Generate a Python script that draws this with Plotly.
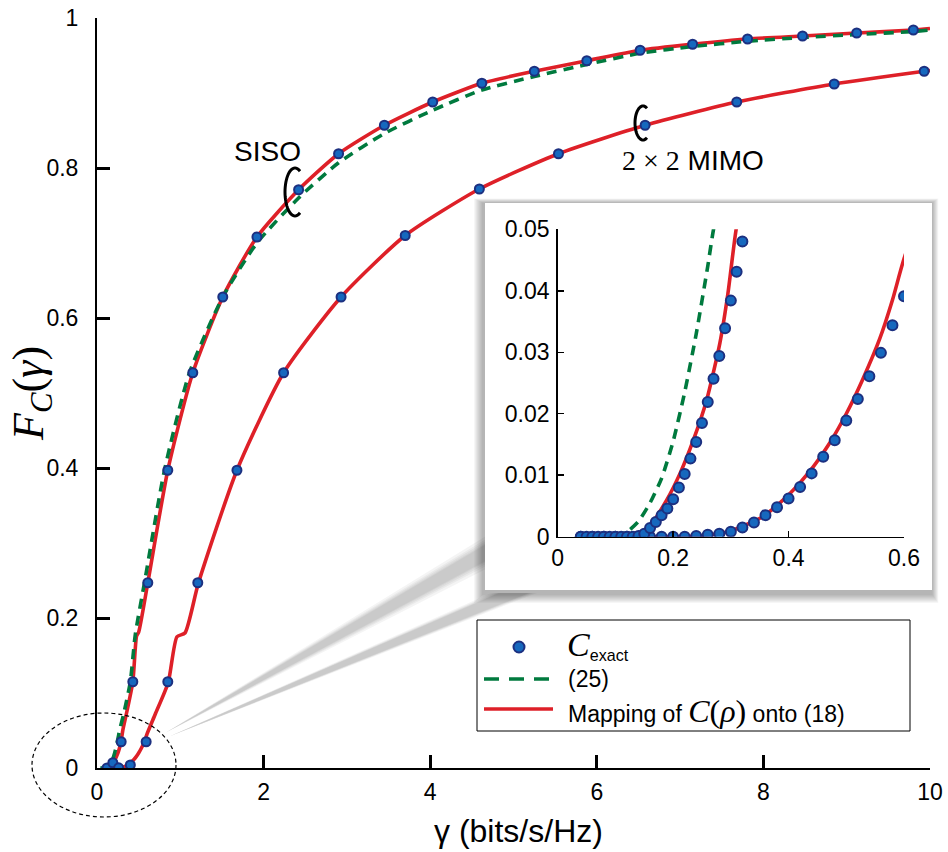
import math
import plotly.graph_objects as go

# ---------------- data ----------------
# C_exact sample points, main plot
siso_x = [0.12, 0.19, 0.29, 0.43, 0.61, 0.85, 1.15, 1.51, 1.92, 2.42, 2.90, 3.45, 4.03,
          4.62, 5.25, 5.88, 6.52, 7.15, 7.81, 8.47, 9.12, 9.80]
siso_y = [0.0, 0.007, 0.035, 0.115, 0.247, 0.397, 0.527, 0.628, 0.708, 0.771, 0.819, 0.857,
          0.888, 0.913, 0.929, 0.943, 0.957, 0.965, 0.972, 0.976, 0.980, 0.984]
mimo_x = [0.26, 0.40, 0.59, 0.85, 1.21, 1.68, 2.24, 2.93, 3.70, 4.59, 5.54, 6.58, 7.68, 8.85, 9.93]
mimo_y = [0.0003, 0.004, 0.035, 0.115, 0.247, 0.397, 0.527, 0.628, 0.710, 0.772, 0.819, 0.857,
          0.888, 0.912, 0.929]

# C_exact sample points, inset (zoom of the origin)
siso_in_x = [0.04, 0.05, 0.06, 0.07, 0.08, 0.09, 0.10, 0.11, 0.12, 0.13, 0.14, 0.15, 0.16, 0.17,
             0.18, 0.19, 0.20, 0.21, 0.22, 0.23, 0.24, 0.25, 0.26, 0.27, 0.28, 0.29, 0.30, 0.31, 0.32]
siso_in_y = [0.0, 0.0, 0.0, 0.0, 0.0, 0.0, 0.0, 0.0, 0.0, 0.0, 0.0001, 0.0005, 0.0014, 0.0024,
             0.0035, 0.0046, 0.0061, 0.0080, 0.0102, 0.0127, 0.0154, 0.0185, 0.0219, 0.0257,
             0.0294, 0.0339, 0.0384, 0.0431, 0.0480]
mimo_in_x = [0.04, 0.06, 0.08, 0.10, 0.12, 0.14, 0.16, 0.18, 0.20, 0.22, 0.24, 0.26, 0.28, 0.30,
             0.32, 0.34, 0.36, 0.38, 0.40, 0.42, 0.44, 0.46, 0.48, 0.50, 0.52, 0.54, 0.56, 0.58, 0.60]
mimo_in_y = [0.0, 0.0, 0.0, 0.0, 0.0, 0.0, 0.0, 0.0, 0.0, 0.0, 0.0001, 0.0003, 0.0005, 0.0008,
             0.0015, 0.0023, 0.0035, 0.0048, 0.0062, 0.0081, 0.0103, 0.0130, 0.0157, 0.0189,
             0.0224, 0.0261, 0.0299, 0.0344, 0.0391]

# "Mapping of C(rho) onto (18)" curves
map_siso_x = [0.056, 0.114, 0.154, 0.189, 0.212, 0.235, 0.258, 0.281, 0.295, 0.309, 0.36, 0.43,
              0.475, 0.50, 0.61, 0.85, 1.15, 1.51, 1.92, 2.42, 2.90, 3.45, 4.03, 4.62, 5.25,
              5.88, 6.52, 7.15, 7.81, 8.47, 9.12, 9.80, 10.0]
map_siso_y = [0.0, 0.0003, 0.0011, 0.006, 0.0103, 0.0157, 0.0222, 0.0315, 0.0396, 0.0499, 0.076,
              0.115, 0.176, 0.181, 0.247, 0.397, 0.527, 0.628, 0.708, 0.771, 0.819, 0.857,
              0.888, 0.913, 0.929, 0.943, 0.957, 0.965, 0.972, 0.976, 0.980, 0.984, 0.986]
map_mimo_x = [0.06, 0.241, 0.298, 0.356, 0.402, 0.443, 0.471, 0.500, 0.529, 0.558, 0.58, 0.60,
              0.70, 0.855, 0.96, 1.056, 1.216, 1.68, 2.24, 2.93, 3.70, 4.59, 5.54, 6.58, 7.68,
              8.85, 9.93, 10.0]
map_mimo_y = [0.0, 0.0001, 0.0009, 0.0033, 0.0070, 0.0114, 0.0152, 0.0200, 0.0257, 0.0322,
              0.0385, 0.0452, 0.072, 0.114, 0.175, 0.180, 0.246, 0.397, 0.527, 0.628, 0.710,
              0.772, 0.819, 0.857, 0.888, 0.912, 0.929, 0.930]

# approximation (25), SISO
approx_x = [0.04, 0.10, 0.12, 0.14, 0.16, 0.18, 0.20, 0.22, 0.24, 0.26, 0.27, 0.32, 0.40, 0.46,
            0.57, 0.81, 1.11, 1.51, 1.92, 2.42, 2.90, 3.45, 4.03, 4.62, 5.25, 5.88, 6.52, 7.15,
            7.81, 8.47, 9.12, 9.80, 10.0]
approx_y = [0.0, 0.0002, 0.0008, 0.0025, 0.0055, 0.0095, 0.0155, 0.0235, 0.033, 0.044, 0.050,
            0.072, 0.115, 0.178, 0.247, 0.397, 0.527, 0.628, 0.700, 0.760, 0.807, 0.846, 0.877,
            0.904, 0.922, 0.938, 0.953, 0.962, 0.969, 0.974, 0.978, 0.982, 0.984]

main_xticks = [0, 2, 4, 6, 8, 10]
main_yticks = [0, 0.2, 0.4, 0.6, 0.8, 1]
inset_xticks = [0, 0.2, 0.4, 0.6]
inset_yticks = [0, 0.01, 0.02, 0.03, 0.04, 0.05]

# ---------------- styles / geometry ----------------
OFF = 0                      # body margin is removed by the post script below
W, H = 948, 852
L, R, T, B = 97, 18, 18, 84
PW, PH = W - L - R, H - T - B
RED = "rgb(222,32,40)"
GREEN = "rgb(0,122,62)"
DOT_FILL = "rgb(22,104,190)"
DOT_EDGE = "rgb(28,48,128)"
SANS = "Liberation Sans, Arial, sans-serif"
SERIF = "Liberation Serif, Times New Roman, serif"


def px(xp):
    """screen x pixel -> paper x"""
    return (xp - OFF - L) / PW


def py(yp):
    """screen y pixel -> paper y"""
    return (OFF + T + PH - yp) / PH


fig = go.Figure()

for xa, ya in (("x", "y"), ("x2", "y2")):
    fig.add_trace(go.Scatter(x=map_siso_x, y=map_siso_y, mode="lines", xaxis=xa, yaxis=ya,
                             line=dict(color=RED, width=3.6, shape="spline", smoothing=0.6),
                             showlegend=False, hoverinfo="skip"))
    fig.add_trace(go.Scatter(x=map_mimo_x, y=map_mimo_y, mode="lines", xaxis=xa, yaxis=ya,
                             line=dict(color=RED, width=3.6, shape="spline", smoothing=0.6),
                             showlegend=False, hoverinfo="skip"))
    fig.add_trace(go.Scatter(x=approx_x, y=approx_y, mode="lines", xaxis=xa, yaxis=ya,
                             line=dict(color=GREEN, width=3.6, dash="10px,7px", shape="spline",
                                       smoothing=0.6),
                             showlegend=False, hoverinfo="skip"))

marker = dict(size=9, color=DOT_FILL, line=dict(color=DOT_EDGE, width=2))
fig.add_trace(go.Scatter(x=siso_x, y=siso_y, mode="markers", marker=marker, showlegend=False))
fig.add_trace(go.Scatter(x=mimo_x, y=mimo_y, mode="markers", marker=marker, showlegend=False))
marker_in = dict(size=10, color=DOT_FILL, line=dict(color=DOT_EDGE, width=2))
fig.add_trace(go.Scatter(x=mimo_in_x, y=mimo_in_y, mode="markers", marker=marker_in,
                         xaxis="x2", yaxis="y2", showlegend=False, cliponaxis=True))
fig.add_trace(go.Scatter(x=siso_in_x, y=siso_in_y, mode="markers", marker=marker_in,
                         xaxis="x2", yaxis="y2", showlegend=False, cliponaxis=True))

shapes = []


def poly(points, color):
    path = "M " + " L ".join(f"{px(a):.5f},{py(b):.5f}" for a, b in points) + " Z"
    return dict(type="path", xref="paper", yref="paper", layer="below", path=path,
                line=dict(width=0), fillcolor=color)


# ---- inset frame: soft shadow + white card ----
bx0, by0, bx1, by1 = 485, 203, 932, 590
for d in range(1, 10):
    shapes.append(dict(type="rect", xref="paper", yref="paper", layer="below",
                       x0=px(bx0 - 2 - d), x1=px(bx1 + d * 0.7), y0=py(by1 + 4 + d),
                       y1=py(by0 - d * 0.5), line=dict(width=0),
                       fillcolor="rgba(0,0,0,0.035)"))
# magnifier beam (two soft grey bands)
for d in (9, 6, 4, 2, 0.8):
    shapes.append(poly([(165, 733), (486, 545 - d), (486, 560 + d)], "rgba(0,0,0,0.045)"))
    shapes.append(poly([(168, 737), (500 - d, 593), (528 + d, 593)], "rgba(0,0,0,0.045)"))
shapes.append(dict(type="rect", xref="paper", yref="paper", layer="below",
                   x0=px(bx0), x1=px(bx1), y0=py(by1), y1=py(by0),
                   line=dict(width=0), fillcolor="white"))

# dashed ellipse around the origin
shapes.append(dict(type="circle", xref="paper", yref="paper", xsizemode="pixel",
                   ysizemode="pixel", xanchor=px(104), yanchor=py(765), x0=-72, x1=72,
                   y0=-52, y1=52, line=dict(color="black", width=1.2, dash="4px,3px"),
                   layer="above"))


def arc_path(rx, ry, a0=60, a1=300, n=40):
    pts = []
    for i in range(n + 1):
        t = math.radians(a0 + (a1 - a0) * i / n)
        pts.append((rx * math.cos(t), ry * math.sin(t)))
    return "M " + " L ".join(f"{x:.2f},{y:.2f}" for x, y in pts)


# curve-group brackets
shapes.append(dict(type="path", xref="paper", yref="paper", xsizemode="pixel",
                   ysizemode="pixel", xanchor=px(295), yanchor=py(192), path=arc_path(10, 24),
                   line=dict(color="black", width=3), layer="above"))
shapes.append(dict(type="path", xref="paper", yref="paper", xsizemode="pixel",
                   ysizemode="pixel", xanchor=px(643), yanchor=py(123), path=arc_path(8, 17),
                   line=dict(color="black", width=3), layer="above"))

# ---- manual legend ----
lx0, ly0, lx1, ly1 = 477, 620, 910, 731
shapes.append(dict(type="rect", xref="paper", yref="paper", x0=px(lx0), x1=px(lx1),
                   y0=py(ly1), y1=py(ly0), line=dict(color="black", width=1),
                   fillcolor="white", layer="below"))
shapes.append(dict(type="circle", xref="paper", yref="paper", xsizemode="pixel",
                   ysizemode="pixel", xanchor=px(519), yanchor=py(647), x0=-5.5, x1=5.5,
                   y0=-5.5, y1=5.5, fillcolor=DOT_FILL, line=dict(color=DOT_EDGE, width=2)))
shapes.append(dict(type="line", xref="paper", yref="paper", x0=px(484), x1=px(553),
                   y0=py(679), y1=py(679), line=dict(color=GREEN, width=3.6, dash="15px,10px")))
shapes.append(dict(type="line", xref="paper", yref="paper", x0=px(484), x1=px(553),
                   y0=py(709), y1=py(709), line=dict(color=RED, width=3.6)))


def note(xp, yp, text, font, xanchor="center", angle=0):
    return dict(xref="paper", yref="paper", x=px(xp), y=py(yp), xanchor=xanchor,
                yanchor="middle", showarrow=False, text=text, font=font, textangle=angle)


ann = [
    note(565, 645, f"<span style='font-family:{SERIF};font-size:34px'><i>C</i></span>"
                   f"<sub>exact</sub>", dict(family=SANS, size=23, color="black"), "left"),
    note(566, 679, "(25)", dict(family=SANS, size=23, color="black"), "left"),
    note(566, 711, f"Mapping of <span style='font-family:{SERIF};font-size:32px'>"
                   f"<i>C</i>(<i>ρ</i>)</span> onto (18)",
         dict(family=SANS, size=23, color="black"), "left"),
    # group labels
    note(267, 151, "SISO", dict(family=SANS, size=28, color="black")),
    note(693, 160, f"<span style='font-family:{SERIF};font-size:28px'>2 × 2</span> MIMO",
         dict(family=SANS, size=28, color="black")),
    # axis titles
    note(31, 394, "<i>F</i><sub><i>C</i></sub>(<i>γ</i>)",
         dict(family=SERIF, size=44, color="black"), angle=-90),
    note(518, 831, "γ (bits/s/Hz)", dict(family=SANS, size=32, color="black")),
]

axis_common = dict(showgrid=False, zeroline=False, showline=True, linecolor="black",
                   ticks="inside", tickcolor="black", mirror=False, automargin=False,
                   ticklabeloverflow="allow",
                   tickfont=dict(family=SANS, size=23, color="black"))

fig.update_layout(
    width=W, height=H, margin=dict(l=L, r=R, t=T, b=B),
    paper_bgcolor="white", plot_bgcolor="rgba(0,0,0,0)",
    showlegend=False, shapes=shapes, annotations=ann, hovermode=False,
    xaxis=dict(range=[0, 10], tickvals=main_xticks, ticktext=[str(v) for v in main_xticks],
               linewidth=2, ticklen=13, tickwidth=3, ticklabelstandoff=2,
               domain=[0, 1], anchor="y", **axis_common),
    yaxis=dict(range=[0, 1], tickvals=main_yticks, ticktext=["0", "0.2", "0.4", "0.6", "0.8", "1"],
               linewidth=2, ticklen=13, tickwidth=3, ticklabelstandoff=12,
               domain=[0, 1], anchor="x", **axis_common),
    xaxis2=dict(range=[0, 0.6], tickvals=inset_xticks, ticktext=["0", "0.2", "0.4", "0.6"],
                linewidth=1.5, ticklen=6, tickwidth=1.5, ticklabelstandoff=0,
                domain=[px(557.7), px(904)], anchor="y2", **axis_common),
    yaxis2=dict(range=[0, 0.05], tickvals=inset_yticks,
                ticktext=["0", "0.01", "0.02", "0.03", "0.04", "0.05"],
                linewidth=1.5, ticklen=6, tickwidth=1.5, ticklabelstandoff=2,
                domain=[py(536.7), py(229.3)], anchor="x2", **axis_common),
)

fig.write_html("out.html", config={"displayModeBar": False, "staticPlot": True},
               post_script="document.body.style.margin='0';"
                           "document.body.style.overflow='hidden';")
